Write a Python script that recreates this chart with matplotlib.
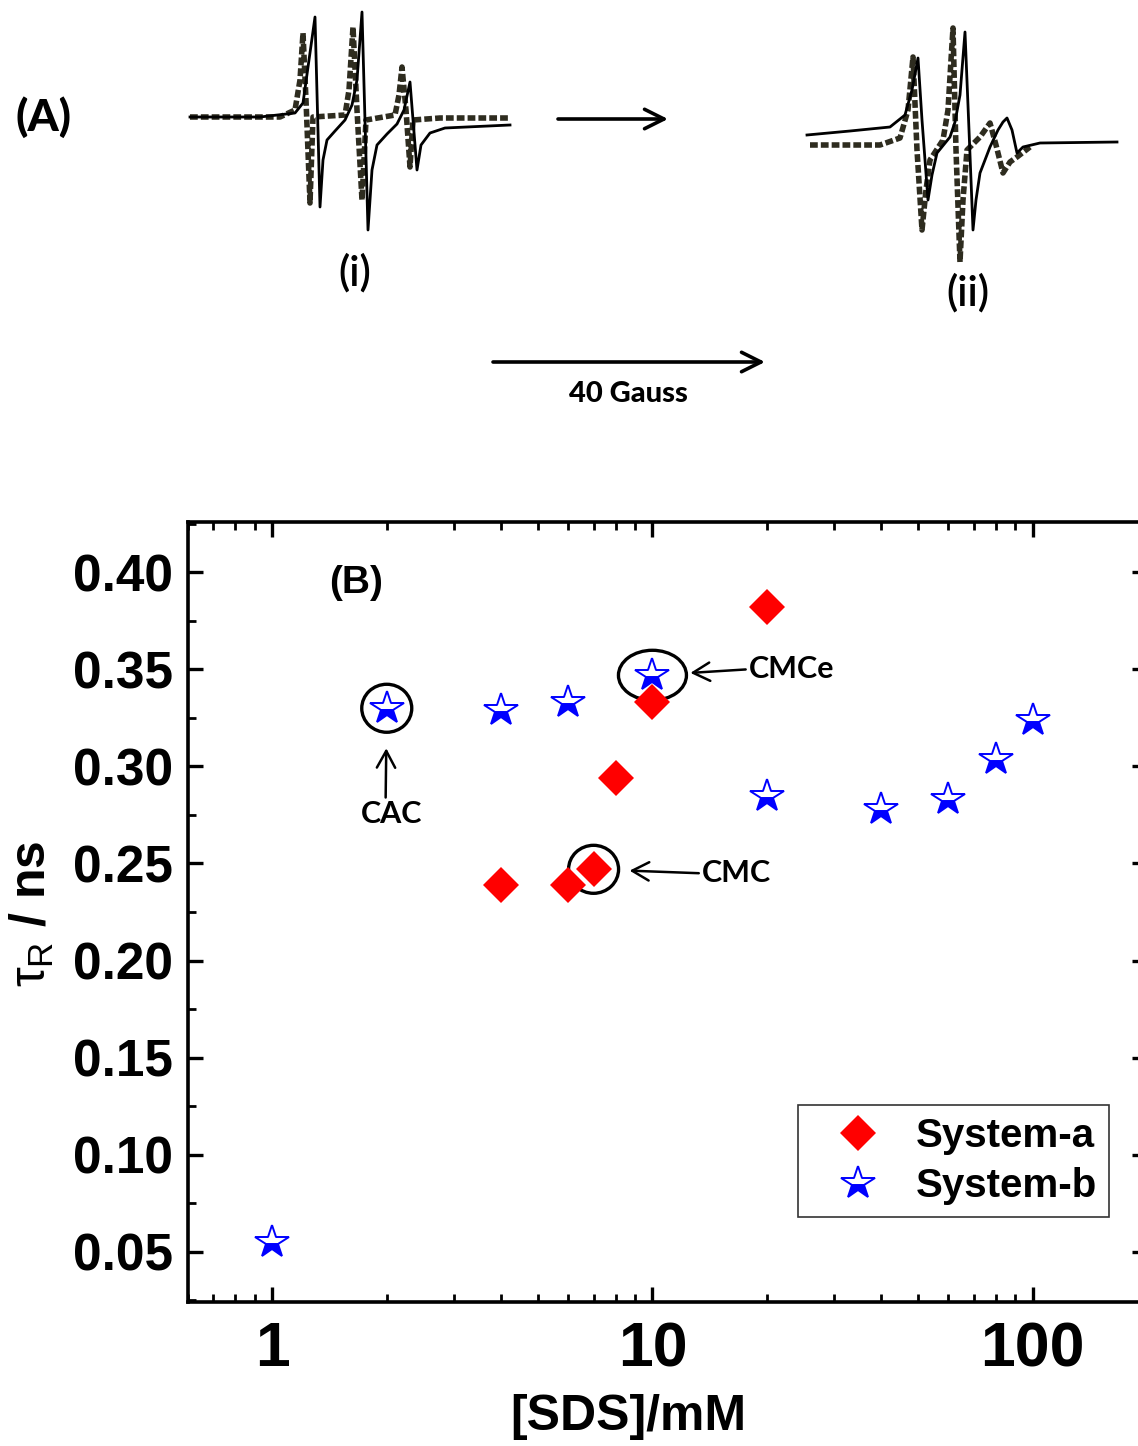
import matplotlib
matplotlib.use('Agg')
import matplotlib.pyplot as plt
from matplotlib.patches import Ellipse
from matplotlib.transforms import ScaledTranslation
from matplotlib.ticker import MultipleLocator, FormatStrFormatter, LogLocator, NullFormatter, FixedLocator, FixedFormatter

plt.rcParams['font.family'] = ['Liberation Sans', 'DejaVu Sans']
plt.rcParams['mathtext.fontset'] = 'custom'
plt.rcParams['mathtext.rm'] = 'Liberation Sans'
plt.rcParams['mathtext.it'] = 'Liberation Sans'
plt.rcParams['mathtext.bf'] = 'Liberation Sans:bold'

# (B) rotational correlation time vs SDS concentration
sds_a = [4, 6, 7, 8, 10, 20]
tau_a = [0.239, 0.239, 0.247, 0.294, 0.333, 0.382]
sds_b = [1, 2, 4, 6, 10, 20, 40, 60, 80, 100]
tau_b = [0.055, 0.330, 0.329, 0.333, 0.347, 0.285, 0.278, 0.283, 0.304, 0.324]

# (A) ESR spectra traces (field position, signal)
spec_i_solid_x = [190, 260, 295, 303, 309, 315, 320, 323, 327, 335, 345, 352, 357, 362, 368, 372, 377, 387, 397, 404, 410, 417, 421, 430, 445, 510]
spec_i_solid_y = [117, 117, 113, 103, 60, 17, 207, 160, 140, 131, 120, 105, 80, 12, 230, 170, 145, 134, 124, 110, 82, 170, 145, 133, 128, 125]
spec_i_dash_x = [190, 280, 295, 300, 303, 306, 310, 313, 345, 349, 353, 357, 362, 366, 395, 399, 402, 406, 410, 413, 440, 510]
spec_i_dash_y = [117, 117, 110, 80, 33, 100, 203, 117, 115, 90, 27, 110, 200, 120, 115, 95, 67, 110, 167, 120, 118, 118]
spec_ii_solid_x = [807, 850, 890, 905, 912, 918, 922, 928, 932, 937, 950, 955, 960, 965, 969, 973, 976, 980, 990, 998, 1003, 1007, 1012, 1017, 1023, 1040, 1117]
spec_ii_solid_y = [135, 131, 127, 115, 90, 58, 120, 200, 175, 153, 137, 122, 95, 32, 130, 230, 200, 173, 147, 130, 122, 118, 130, 153, 147, 143, 142]
spec_ii_dash_x = [810, 880, 900, 908, 913, 917, 922, 926, 930, 943, 948, 951, 953, 956, 960, 963, 967, 980, 990, 996, 1003, 1010, 1017, 1030]
spec_ii_dash_y = [145, 145, 138, 110, 57, 150, 230, 190, 160, 140, 110, 60, 28, 150, 262, 200, 150, 137, 123, 145, 173, 162, 157, 147]

W, H = 1138, 1446
fig = plt.figure(figsize=(W / 100, H / 100), dpi=100)

# ---- panel (A): spectra drawn in a pixel-like frame ----
top_h = 470
axA = fig.add_axes([0, 1 - top_h / H, 1, top_h / H])
axA.set_xlim(0, W)
axA.set_ylim(top_h, 0)
axA.axis('off')

dash_color = '#2e2c1f'
axA.plot(spec_i_dash_x, spec_i_dash_y, color=dash_color, lw=4, linestyle=(0, (1.4, 0.55)))
axA.plot(spec_i_solid_x, spec_i_solid_y, color='black', lw=2)
axA.plot(spec_ii_dash_x, spec_ii_dash_y, color=dash_color, lw=4, linestyle=(0, (1.4, 0.55)))
axA.plot(spec_ii_solid_x, spec_ii_solid_y, color='black', lw=2)

axA.text(44, 117, '(A)', fontsize=32, fontweight='black', family='Lato', ha='center', va='center')
axA.text(355, 273, '(i)', fontsize=30, fontweight='semibold', family='Lato', ha='center', va='center')
axA.text(968, 293, '(ii)', fontsize=30, fontweight='semibold', family='Lato', ha='center', va='center')
axA.annotate('', xy=(668, 119), xytext=(558, 119),
             arrowprops=dict(arrowstyle='->,head_length=0.7,head_width=0.35', lw=2.6, color='black',
                             shrinkA=0, shrinkB=0, mutation_scale=20))
axA.annotate('', xy=(765, 362), xytext=(493, 362),
             arrowprops=dict(arrowstyle='->,head_length=0.7,head_width=0.35', lw=2.6, color='black',
                             shrinkA=0, shrinkB=0, mutation_scale=20))
axA.text(628, 394, '40 Gauss', fontsize=21, fontweight='black', family='Lato', ha='center', va='center')

# ---- panel (B) ----
left, right, top, bottom = 188, 1147, 522, 1302
ax = fig.add_axes([left / W, 1 - bottom / H, (right - left) / W, (bottom - top) / H])
ax.set_xscale('log')
ax.set_xlim(0.6, 200)
ax.set_ylim(0.024, 0.426)

ax.plot(sds_a, tau_a, linestyle='none', marker='D', markersize=18, color='#ff0000',
        markeredgewidth=0, label='System-a')
ax.plot(sds_b, tau_b, linestyle='none', marker='*', markersize=25, color='#0000ff',
        fillstyle='bottom', markerfacecoloralt='white', markeredgewidth=1.4, label='System-b')

for s in ax.spines.values():
    s.set_linewidth(2.6)

ax.yaxis.set_major_locator(MultipleLocator(0.05))
ax.yaxis.set_minor_locator(MultipleLocator(0.025))
ax.yaxis.set_major_formatter(FormatStrFormatter('%.2f'))
ax.xaxis.set_major_locator(FixedLocator([1, 10, 100]))
ax.xaxis.set_major_formatter(FixedFormatter(['1', '10', '100']))
ax.xaxis.set_minor_locator(LogLocator(base=10, subs=range(2, 10), numticks=20))
ax.xaxis.set_minor_formatter(NullFormatter())
ax.tick_params(which='both', direction='in', top=True, right=True)
ax.tick_params(which='major', length=11, width=2.4)
ax.tick_params(which='minor', length=6, width=2)
ax.tick_params(axis='y', which='major', pad=11, labelsize=37)
ax.tick_params(axis='x', which='major', pad=13, labelsize=45)
for lab in ax.get_yticklabels() + ax.get_xticklabels():
    lab.set_fontweight('bold')

ax.set_xlabel('[SDS]/mM', fontsize=36, fontweight='bold')
ax.xaxis.set_label_coords((628 - left) / (right - left), -(1394 - bottom) / (bottom - top))
ax.set_ylabel(r'$\tau_\mathrm{R}$ / ns', fontsize=36, fontweight='bold')
ax.yaxis.set_label_coords(-(left - 56) / (right - left), (bottom - 914) / (bottom - top))

ax.text((356 - left) / (right - left), (bottom - 583) / (bottom - top), '(B)', transform=ax.transAxes,
        fontsize=28, fontweight='bold', ha='center', va='center')

# circles around the marked points
def ring(x, y, w_px, h_px):
    tr = fig.dpi_scale_trans + ScaledTranslation(x, y, ax.transData)
    ax.add_patch(Ellipse((0, 0), w_px / 100, h_px / 100, transform=tr, fill=False,
                         edgecolor='black', lw=2.4, clip_on=False))

ring(sds_b[1], tau_b[1], 50, 48)
ring(sds_b[4], tau_b[4], 68, 50)
ring(sds_a[2], tau_a[2], 50, 48)

arrow = dict(arrowstyle='->,head_length=0.55,head_width=0.3', lw=1.8, color='black', shrinkA=0)
ax.annotate('CMCe', xy=(sds_b[4], tau_b[4]), xytext=(96 * 0.72, 6 * 0.72), textcoords='offset points',
            fontsize=22, fontweight='bold', family='Lato', ha='left', va='center',
            arrowprops=dict(arrow, shrinkB=38 * 0.72, relpos=(0, 0.5)))
ax.annotate('CMC', xy=(sds_a[2], tau_a[2]), xytext=(108 * 0.72, -4 * 0.72), textcoords='offset points',
            fontsize=22, fontweight='bold', family='Lato', ha='left', va='center',
            arrowprops=dict(arrow, shrinkB=36 * 0.72, relpos=(0, 0.5)))
ax.annotate('CAC', xy=(sds_b[1], tau_b[1]), xytext=(5 * 0.72, -106 * 0.72), textcoords='offset points',
            fontsize=22, fontweight='bold', family='Lato', ha='center', va='center',
            arrowprops=dict(arrow, shrinkB=40 * 0.72, relpos=(0.4, 1)))

leg = ax.legend(loc='upper left', bbox_to_anchor=(798 / W, 1 - 1105 / H), bbox_transform=fig.transFigure,
                fancybox=False, framealpha=1, edgecolor='#333333', prop=dict(size=29, weight='bold'),
                handlelength=2.4, handletextpad=0.22, borderpad=0.3, labelspacing=0.3, borderaxespad=0)
leg.get_frame().set_linewidth(1.2)

fig.savefig('out.png', dpi=100)
